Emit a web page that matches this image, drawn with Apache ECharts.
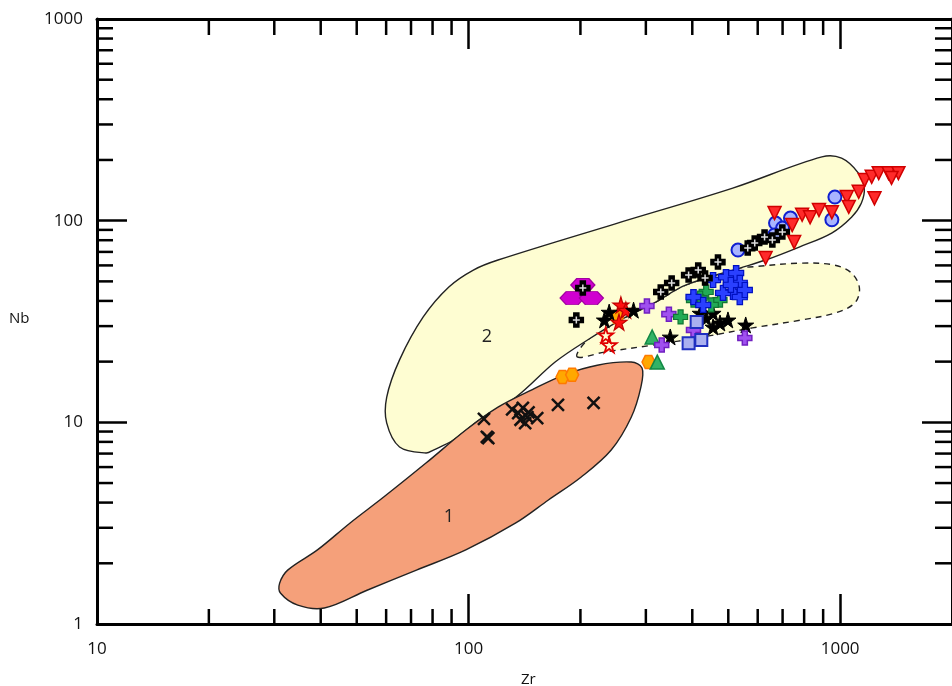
<!DOCTYPE html>
<html><head><meta charset="utf-8">
<script src="https://cdn.jsdelivr.net/npm/echarts@6/dist/echarts.min.js"></script>
<style>html,body{margin:0;padding:0;background:#fff;overflow:hidden}#c{width:952px;height:686px}</style>
</head><body><div id="c"></div>
<script>
// ---- Axis ticks ----
const xMinorTicks = [20,30,40,50,60,70,80,90,200,300,400,500,600,700,800,900];
const yMinorTicks = [2,3,4,5,6,7,8,9,20,30,40,50,60,70,80,90,200,300,400,500,600,700,800,900];

// ---- Field outlines [Zr, Nb] ----
const regionOne = [[31.0,1.59],[32.6,1.85],[39.2,2.33],[48.0,3.17],[59.1,4.26],[76.8,6.28],[98.3,9.16],[120,11.9],[148,14.5],[181,17.2],[222,19.2],[274,19.9],[293,18.6],[291,15.0],[274,10.6],[242,7.29],[201,5.36],[164,4.12],[134,3.17],[98.3,2.33],[72.4,1.85],[53.3,1.47],[40.9,1.20],[34.7,1.24],[31.2,1.42]];
const regionTwo = [[76.8,7.05],[65.2,7.55],[60.2,9.93],[60.2,13.3],[65.2,20.4],[75.5,33.3],[88.5,46.9],[103,56.9],[120,63.8],[247,96.2],[514,145],[893,207],[1009,204],[1120,172],[1161,145],[1140,122],[1073,104],[949,86.8],[776,74.0],[630,63.8],[537,58.2],[385,48.0],[315,39.0],[257,32.2],[209,25.6],[171,19.9],[134,13.3],[107,10.3],[91.0,8.17],[80.4,7.29]];
const regionDashed = [[196,21.1],[232,22.3],[315,24.2],[427,26.5],[581,29.4],[789,32.2],[966,34.8],[1094,39.0],[1127,46.3],[1073,55.0],[966,60.2],[789,61.6],[570,58.9],[537,58.2],[385,48.0],[315,39.0],[257,32.2],[209,25.6]];
const regionNames = ['1','2'];
const regionNameAt = [[88.5,3.39],[112,26.5]];

// ---- Samples [Zr, Nb] ----
const blackX = [[110,10.4],[112,8.46],[113,8.36],[131,11.6],[136,11.1],[140,11.8],[144,10.6],[138,10.3],[145,11.2],[142,9.9],[153,10.5],[174,12.2],[217,12.5]];
const orangeHex = [[179,16.8],[190,17.2],[305,19.9],[251,33.3]];
const magentaHex = [[203,48.0],[190,41.3],[214,41.3]];
const blackPlus = [[195,32.2],[203,46.3],[329,44.3],[352,49.1],[391,53.7],[415,56.9],[433,51.9],[469,62.3],[564,73.1],[589,77.4],[626,82.9],[657,80.1],[699,87.8]];
const redStar = [[257,38.2],[265,36.0],[254,31.4]];
const redStarHollow = [[234,27.1],[239,24.2]];
const blackStar = [[232,32.2],[239,35.2],[278,36.0],[349,26.5],[420,34.8],[436,32.9],[455,34.8],[475,31.1],[499,32.2],[455,29.7],[557,30.4]];
const purplePlus = [[302,37.7],[346,34.4],[403,28.7],[554,26.2],[331,24.2]];
const greenTri = [[312,26.5],[322,19.9]];
const greenCross = [[403,40.4],[436,44.3],[475,40.4],[372,33.3],[420,41.3],[450,38.2]];
const blueCross = [[455,50.8],[493,52.5],[525,55.0],[537,49.1],[515,44.3],[484,43.8],[537,41.8],[508,48.0],[403,41.8],[554,45.3],[428,38.2]];
const lightSquare = [[391,24.7],[411,31.4],[423,25.6]];
const blueCircle = [[531,71.5],[670,97.3],[700,91.9],[735,103],[968,131],[950,101],[666,84.9]];
const redTriDown = [[630,65.3],[666,109],[743,95.1],[752,78.3],[790,107],[830,104],[877,113],[950,110],[1042,131],[1055,117],[1122,139],[1237,129],[1164,159],[1216,165],[1270,172],[1350,172],[1435,172],[1375,163]];

const FONT = 'Open Sans';
const P_PLUS = 'path://M3.2,0H6.8V3.2H10V6.8H6.8V10H3.2V6.8H0V3.2H3.2Z';
const P_THIN = 'path://M5,0V10M0,5H10';
const P_X = 'path://M0,0L10,10M10,0L0,10';
const P_STAR = 'path://M50,0L61,35L98,35L68,57L79,91L50,70L21,91L32,57L2,35L39,35Z';
const P_HEX = 'path://M25,0L75,0L100,50L75,100L25,100L0,50Z';

function regionSeries(pts, fill, dash, z) {
  return {type:'custom', coordinateSystem:'cartesian2d', silent:true, z:z, data:pts,
    renderItem:function(params, api){
      if (params.dataIndex !== 0) return null;
      return {type:'polygon', shape:{points: pts.map(p => api.coord(p)), smooth:0.35},
        style:{fill:fill, stroke:'#222', lineWidth:1.4, lineDash: dash ? [6,5] : null}};
    }};
}
function tickSeries(values, dir) {
  return {type:'custom', coordinateSystem:'cartesian2d', silent:true, z:10,
    data: values.map(v => dir === 'x' ? [v, 1] : [10, v]),
    renderItem:function(params, api){
      const cs = params.coordSys;
      const p = api.coord([api.value(0), api.value(1)]);
      const st = {stroke:'#000', lineWidth:2.5};
      if (dir === 'x') {
        const b = cs.y + cs.height, t = cs.y;
        return {type:'group', children:[
          {type:'line', shape:{x1:p[0], y1:b, x2:p[0], y2:b-15}, style:st},
          {type:'line', shape:{x1:p[0], y1:t, x2:p[0], y2:t+16}, style:st}]};
      }
      const l = cs.x, r = cs.x + cs.width;
      return {type:'group', children:[
        {type:'line', shape:{x1:l, y1:p[1], x2:l+16, y2:p[1]}, style:st},
        {type:'line', shape:{x1:r, y1:p[1], x2:r-17, y2:p[1]}, style:st}]};
    }};
}
function sc(data, symbol, size, fill, border, bw, extra) {
  return Object.assign({type:'scatter', data:data, symbol:symbol, symbolSize:size, z:20,
    itemStyle:{color:fill, borderColor:border, borderWidth:bw, opacity:1}, emphasis:{disabled:true}}, extra || {});
}

const chart = echarts.init(document.getElementById('c'), null, {renderer:'canvas'});
const axisCommon = {type:'log', logBase:10, splitLine:{show:false},
  axisLine:{show:true, lineStyle:{color:'#000', width:3}},
  axisTick:{show:true, inside:true, length:30, lineStyle:{color:'#000', width:2.5}}};
chart.setOption({
  animation:false,
  backgroundColor:'#fff',
  grid:{left:97, right:-10, top:19, bottom:62, containLabel:false},
  xAxis:[
    Object.assign({}, axisCommon, {position:'bottom', min:10, max:2000,
      axisLabel:{show:true, fontFamily:FONT, fontSize:17, color:'#111', margin:17, showMaxLabel:false,
        formatter:v => String(Math.round(v))}}),
    Object.assign({}, axisCommon, {position:'top', min:10, max:2000, axisLabel:{show:false}})
  ],
  yAxis:[
    Object.assign({}, axisCommon, {position:'left', min:1, max:1000,
      axisLabel:{show:true, fontFamily:FONT, fontSize:17, color:'#111', margin:14,
        formatter:v => String(Math.round(v))}}),
    Object.assign({}, axisCommon, {position:'right', min:1, max:1000, axisLabel:{show:false}})
  ],
  graphic:[
    {type:'text', left:521, top:672, style:{text:'Zr', font:'15px "Open Sans"', fill:'#111'}},
    {type:'text', left:9, top:311, style:{text:'Nb', font:'15px "Open Sans"', fill:'#111'}}
  ],
  series:[
    regionSeries(regionDashed, '#FEFDD2', true, 1),
    regionSeries(regionTwo, '#FEFDD2', false, 2),
    regionSeries(regionOne, '#F5A07A', false, 3),
    {type:'custom', coordinateSystem:'cartesian2d', silent:true, z:4, data:regionNameAt,
      renderItem:function(params, api){
        const p = api.coord([api.value(0), api.value(1)]);
        return {type:'text', x:p[0], y:p[1], style:{text:regionNames[params.dataIndex], font:'18px "Open Sans"', fill:'#222', align:'center', verticalAlign:'middle'}};
      }},
    tickSeries(xMinorTicks, 'x'),
    tickSeries(yMinorTicks, 'y'),
    sc(blackX, P_X, 12, '#111', '#111', 2.5),
    sc(orangeHex, P_HEX, 13, '#FFA800', '#FF7A00', 1.5),
    sc(magentaHex, P_HEX, [24,13], '#D000D0', '#A000A0', 1.2),
    sc(greenTri, 'triangle', 14, '#33B266', '#118844', 1.5),
    sc(redStarHollow, P_STAR, 15, 'rgba(0,0,0,0)', '#E00000', 1.8),
    sc(redStar, P_STAR, 16, '#FF1010', '#C00000', 1.2),
    sc(blackStar, P_STAR, 16, '#000', '#000', 1),
    sc(purplePlus, P_PLUS, 14, '#A050F0', '#7020C0', 1.5),
    sc(greenCross, P_PLUS, 14, '#22AA55', '#117733', 1.2),
    sc(blueCross, P_PLUS, 15, '#2A40FF', '#0010C0', 1.2),
    sc(lightSquare, 'rect', 12, '#AAB0F0', '#2030C0', 2),
    sc(blueCircle, 'circle', 13, '#A8B4FF', '#1020D0', 2),
    sc(blackPlus, P_PLUS, 14, '#000', '#000', 1.5),
    sc(blackPlus, P_THIN, 7, 'none', '#DDD', 1.5, {z:21}),
    sc(redTriDown, 'triangle', 13, '#FF2A2A', '#D00000', 1.5, {symbolRotate:180})
  ]
});
</script>
</body></html>
